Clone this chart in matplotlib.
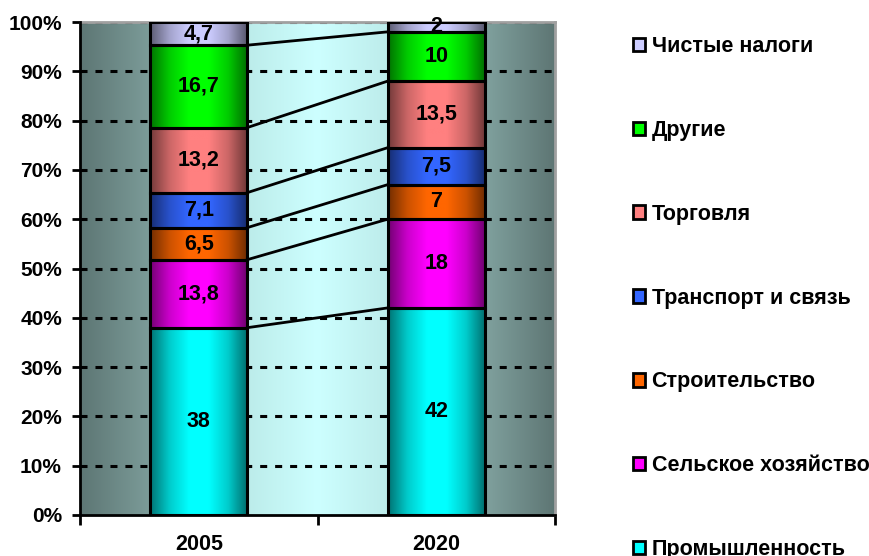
import numpy as np
import matplotlib
matplotlib.use("Agg")
import matplotlib.pyplot as plt
from matplotlib.patches import Patch
from matplotlib.colors import to_rgb

plt.rcParams['font.family'] = ['Liberation Sans', 'DejaVu Sans']
plt.rcParams['font.weight'] = 'bold'

years = ['2005', '2020']
sectors = ['Промышленность', 'Сельское хозяйство', 'Строительство',
           'Транспорт и связь', 'Торговля', 'Другие', 'Чистые налоги']
shares_2005 = [38, 13.8, 6.5, 7.1, 13.2, 16.7, 4.7]
shares_2020 = [42, 18, 7, 7.5, 13.5, 10, 2]
colors = ['#00ffff', '#ff00ff', '#ff6600', '#3366ff', '#ff8080', '#00ff00', '#ccccff']
yticks = list(range(0, 101, 10))


def hgrad(ax, x0, x1, y0, y1, cols, z):
    """horizontal gradient through the given colours"""
    n = 200
    t = np.linspace(0, 1, n)
    stops = np.linspace(0, 1, len(cols))
    rgb = np.array([to_rgb(c) for c in cols])
    img = np.stack([np.interp(t, stops, rgb[:, k]) for k in range(3)], axis=-1)
    ax.imshow(img[None, :, :], extent=(x0, x1, y0, y1), aspect='auto',
              zorder=z, interpolation='bilinear')


def shade(c, f):
    r, g, b = to_rgb(c)
    return (r * f, g * f, b * f)


fig = plt.figure(figsize=(8.7, 5.56), dpi=100)
ax = fig.add_axes([80 / 870, 41 / 556, 475 / 870, 493 / 556])

w = 0.41
xs = np.arange(len(years))

# plot area background bands
hgrad(ax, -0.5, -w / 2, 0, 100, ['#5d7674', '#7c9c99'], 0)
hgrad(ax, w / 2, 1 - w / 2, 0, 100, ['#bcecea', '#cdffff', '#bdeceb'], 0)
hgrad(ax, 1 + w / 2, 1.5, 0, 100, ['#80a19e', '#5d7573'], 0)

# dashed gridlines
for yv in yticks[1:]:
    ax.plot([-0.5, 1.5], [yv, yv], color='black', lw=2.2,
            dashes=(2.3, 2.6), zorder=1)

# bars with cylinder-like shading
tops = []
for xi, vals in zip(xs, [shares_2005, shares_2020]):
    bottom = 0
    t = []
    for v, c in zip(vals, colors):
        hgrad(ax, xi - w / 2, xi + w / 2, bottom, bottom + v,
              [shade(c, 0.45), shade(c, 0.8), c, c, shade(c, 0.8), shade(c, 0.42)], 2)
        ax.bar(xi, v, w, bottom=bottom, color='none', edgecolor='black',
               linewidth=2.2, zorder=3)
        lbl = f'{v:g}'.replace('.', ',')
        ax.text(xi, bottom + v / 2, lbl, ha='center', va='center',
                fontsize=15.5, fontweight='bold', zorder=5)
        bottom += v
        t.append(bottom)
    tops.append(t)

# series lines between the bars
for a, b in zip(tops[0][:-1], tops[1][:-1]):
    ax.plot([w / 2, 1 - w / 2], [a, b], color='black', lw=2, zorder=4)

ax.set_xlim(-0.5, 1.5)
ax.set_ylim(0, 100)
ax.set_yticks(yticks)
ax.set_yticklabels([f'{v}%' for v in yticks], fontsize=15, fontweight='bold')
ax.set_xticks([-0.5, 0.5, 1.5])
ax.set_xticklabels([])
ax.set_xticks(xs, minor=True)
ax.set_xticklabels(years, minor=True, fontsize=15.5, fontweight='bold')
ax.tick_params(axis='x', which='minor', length=0, pad=14)
ax.tick_params(axis='x', which='major', direction='out', length=7, width=2)
ax.tick_params(axis='y', direction='out', length=6, width=2, pad=7)

for s in ['left', 'bottom']:
    ax.spines[s].set_linewidth(2)
    ax.spines[s].set_zorder(6)
for s in ['top', 'right']:
    ax.spines[s].set_color('#a0a0a0')
    ax.spines[s].set_linewidth(2)

handles = [Patch(facecolor=c, edgecolor='black', linewidth=2) for c in colors]
leg = fig.legend(handles[::-1], sectors[::-1], loc='upper left',
                 bbox_to_anchor=(633 / 870, 1 - 36 / 556), frameon=False,
                 fontsize=15.5, handlelength=0.58, handleheight=0.58,
                 handletextpad=0.28, labelspacing=2.92, borderpad=0,
                 borderaxespad=0)
for txt in leg.get_texts():
    txt.set_fontweight('bold')

fig.savefig('out.png', dpi=100)
